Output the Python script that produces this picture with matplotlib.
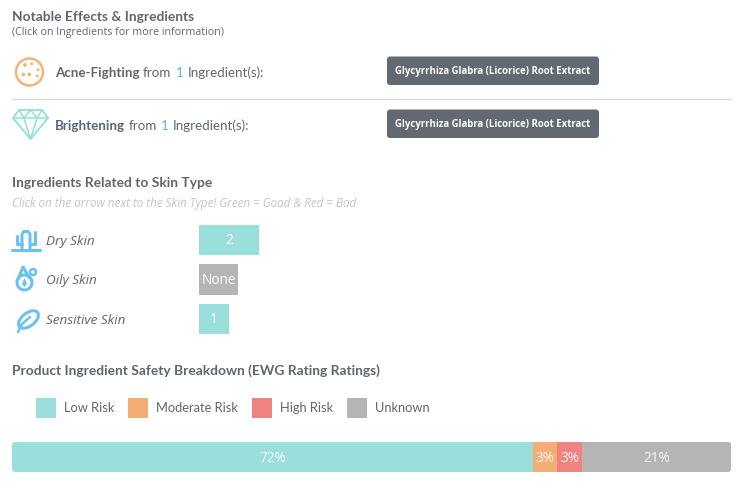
import numpy as np
import matplotlib
matplotlib.use("Agg")
from matplotlib import pyplot as plt
from matplotlib.patches import Rectangle, FancyBboxPatch, Circle, Polygon, Ellipse

plt.rcParams['font.family'] = ['Lato', 'DejaVu Sans']
WIDE = ['Open Sans', 'DejaVu Sans']

# data
effects = ["Acne-Fighting", "Brightening"]
effect_counts = [1, 1]
effect_ingredient = ["Glycyrrhiza Glabra (Licorice) Root Extract",
                     "Glycyrrhiza Glabra (Licorice) Root Extract"]

skin_types = ["Dry Skin", "Oily Skin", "Sensitive Skin"]
skin_counts = [2, 0, 1]

risk_labels = ["Low Risk", "Moderate Risk", "High Risk", "Unknown"]
risk_counts = [21, 1, 1, 6]
risk_colors = ["#9adfdc", "#f3ae76", "#f08282", "#b5b5b5"]

DARK = "#5f6571"
BLUE = "#5db4ea"
ICON = "#6cc1f3"
HEAD = 9.9

fig = plt.figure(figsize=(7.43, 4.89), dpi=100)
W, H = 743, 489
ax = fig.add_axes([0, 0, 1, 1])
ax.set_xlim(0, W)
ax.set_ylim(H, 0)
ax.axis('off')


def px_axes(x0, y0, w, h):
    return fig.add_axes([x0 / W, (H - y0 - h) / H, w / W, h / H])


# ---- notable effects
ax.text(12, 17, "Notable Effects & Ingredients", fontsize=HEAD, weight='bold',
        color=DARK, va='center')
ax.text(12, 33, "(Click on Ingredients for more information)", fontsize=7.65,
        family=WIDE, color=DARK, va='center')

rows_y = [73, 126]
for name, n, ingr, y in zip(effects, effect_counts, effect_ingredient, rows_y):
    t1 = ax.text(55, y, name, fontsize=9.6, weight='bold', color=DARK, va='center')
    t2 = ax.annotate("from", xy=(1, 0), xycoords=t1, xytext=(2.5, 0),
                     textcoords='offset points', fontsize=9.6, color=DARK, va='bottom')
    t3 = ax.annotate(str(n), xy=(1, 0), xycoords=t2, xytext=(3, 0),
                     textcoords='offset points', fontsize=9.6, color=BLUE, va='bottom')
    ax.annotate("Ingredient(s):", xy=(1, 0), xycoords=t3, xytext=(3, 0),
                textcoords='offset points', fontsize=9.6, color=DARK, va='bottom')
    ax.add_patch(FancyBboxPatch((387, y - 15.5), 212, 28.5,
                                boxstyle='round,pad=0,rounding_size=3',
                                fc='#636970', ec='none'))
    ax.text(493, y - 1.2, ingr, fontsize=6.9, weight='bold', family=WIDE,
            color='white', ha='center', va='center')

ax.plot([12, 731], [99.5, 99.5], color='#dcdcdc', lw=1)

# cookie icon
orange = "#f5b27a"
ax.add_patch(Circle((29.5, 73), 13.5, fill=False, ec=orange, lw=1.8))
for cx, cy, r in [(25, 66, 1.9), (31.7, 64.8, 1.5), (38, 70.7, 1.4),
                  (23.3, 75.5, 1.9), (29.3, 75.5, 1.9), (37.3, 77, 1.4)]:
    ax.add_patch(Circle((cx, cy), r, fc=orange, ec='none'))

# diamond icon
mint = "#8ee3d3"
ax.add_patch(Polygon([(19, 111), (42, 111), (48, 119), (30.5, 140), (13, 119)],
                     closed=True, fill=False, ec=mint, lw=1.3))
for seg in [[(13, 119), (48, 119)], [(19, 111), (24, 119)], [(30.5, 111), (24, 119)],
            [(30.5, 111), (37, 119)], [(42, 111), (37, 119)],
            [(24, 119), (30.5, 140)], [(37, 119), (30.5, 140)]]:
    xs, ys = zip(*seg)
    ax.plot(xs, ys, color=mint, lw=1.1)

# ---- skin type
ax.text(12, 183, "Ingredients Related to Skin Type", fontsize=HEAD, weight='bold',
        color=DARK, va='center')
ax.text(12, 203, "Click on the arrow next to the Skin Type! Green = Good & Red = Bad",
        fontsize=8.4, style='italic', family=WIDE, color='#c4c4c4', va='center')

skin_y = [241, 280.5, 320]
for name, y in zip(skin_types, skin_y):
    ax.text(46, y, name, fontsize=9.7, style='italic', family=WIDE, color=DARK,
            va='center')

axs = px_axes(199, 221.25, 150, 118.5)
axs.set_xlim(0, 5)
axs.set_ylim(2.5, -0.5)
axs.axis('off')
for i, c in enumerate(skin_counts):
    if c > 0:
        axs.barh(i, c, height=0.76, color="#9adfdc", align='center')
        axs.text(c / 2, i, str(c), color='white', fontsize=9.8, family=WIDE,
                 ha='center', va='center')
    else:
        axs.barh(i, 1.3, height=0.76, color="#b5b5b5", align='center')
        axs.text(0.65, i, "None", color='white', fontsize=9.8, family=WIDE,
                 ha='center', va='center')

# cactus icon
for seg in [[(12, 250.7), (40, 250.7)],
            [(22, 250.7), (22, 235), (24, 232.5), (28, 232.5), (30, 235), (30, 250.7)],
            [(22, 245), (17, 245), (17, 237)],
            [(30, 245), (35, 245), (35, 233)]]:
    xs, ys = zip(*seg)
    ax.plot(xs, ys, color=ICON, lw=2.2, solid_capstyle='round', solid_joinstyle='round')

# droplet icon
ax.add_patch(Circle((24.5, 283.5), 7.5, fill=False, ec=ICON, lw=2.2))
ax.plot([18.5, 23, 29], [279, 268, 278], color=ICON, lw=2.2, solid_joinstyle='round')
ax.add_patch(Circle((33, 273), 3, fill=False, ec=ICON, lw=1.8))
ax.add_patch(Polygon([(24.5, 279), (27, 285), (24.5, 288), (22, 285)], closed=True,
                     fc=ICON, ec='none'))

# leaf icon
ax.add_patch(Ellipse((28.5, 320.5), 23, 13, angle=-38, fill=False, ec=ICON, lw=2.2))
ax.plot([18, 22, 30], [333, 325, 318], color=ICON, lw=1.8, solid_capstyle='round')

# ---- safety breakdown
ax.text(12, 370.5, "Product Ingredient Safety Breakdown (EWG Rating Ratings)",
        fontsize=HEAD, weight='bold', color=DARK, va='center')

legend_x = [36, 128, 252, 347]
for lx, lab, col in zip(legend_x, risk_labels, risk_colors):
    ax.add_patch(Rectangle((lx, 399), 20, 19.5, fc=col, ec='none'))
    ax.text(lx + 28, 408, lab, fontsize=9.3, color=DARK, va='center')

total = sum(risk_counts)
shares = [c / total * 100 for c in risk_counts]
axb = px_axes(12, 443, 719, 30)
axb.set_xlim(0, 100)
axb.set_ylim(-0.5, 0.5)
axb.axis('off')
clip = FancyBboxPatch((12, 443), 719, 30, boxstyle='round,pad=0,rounding_size=3',
                      transform=ax.transData, fc='none', ec='none')
left = 0
for s, col in zip(shares, risk_colors):
    bars = axb.barh(0, s, left=left, height=1.0, color=col, align='center')
    for b in bars:
        b.set_clip_path(clip)
    axb.text(left + s / 2, -0.02, "%d%%" % round(s), color='white', alpha=0.9,
             fontsize=9.8, family=WIDE, ha='center', va='center')
    left += s

fig.savefig("out.png", dpi=100, facecolor='white')
